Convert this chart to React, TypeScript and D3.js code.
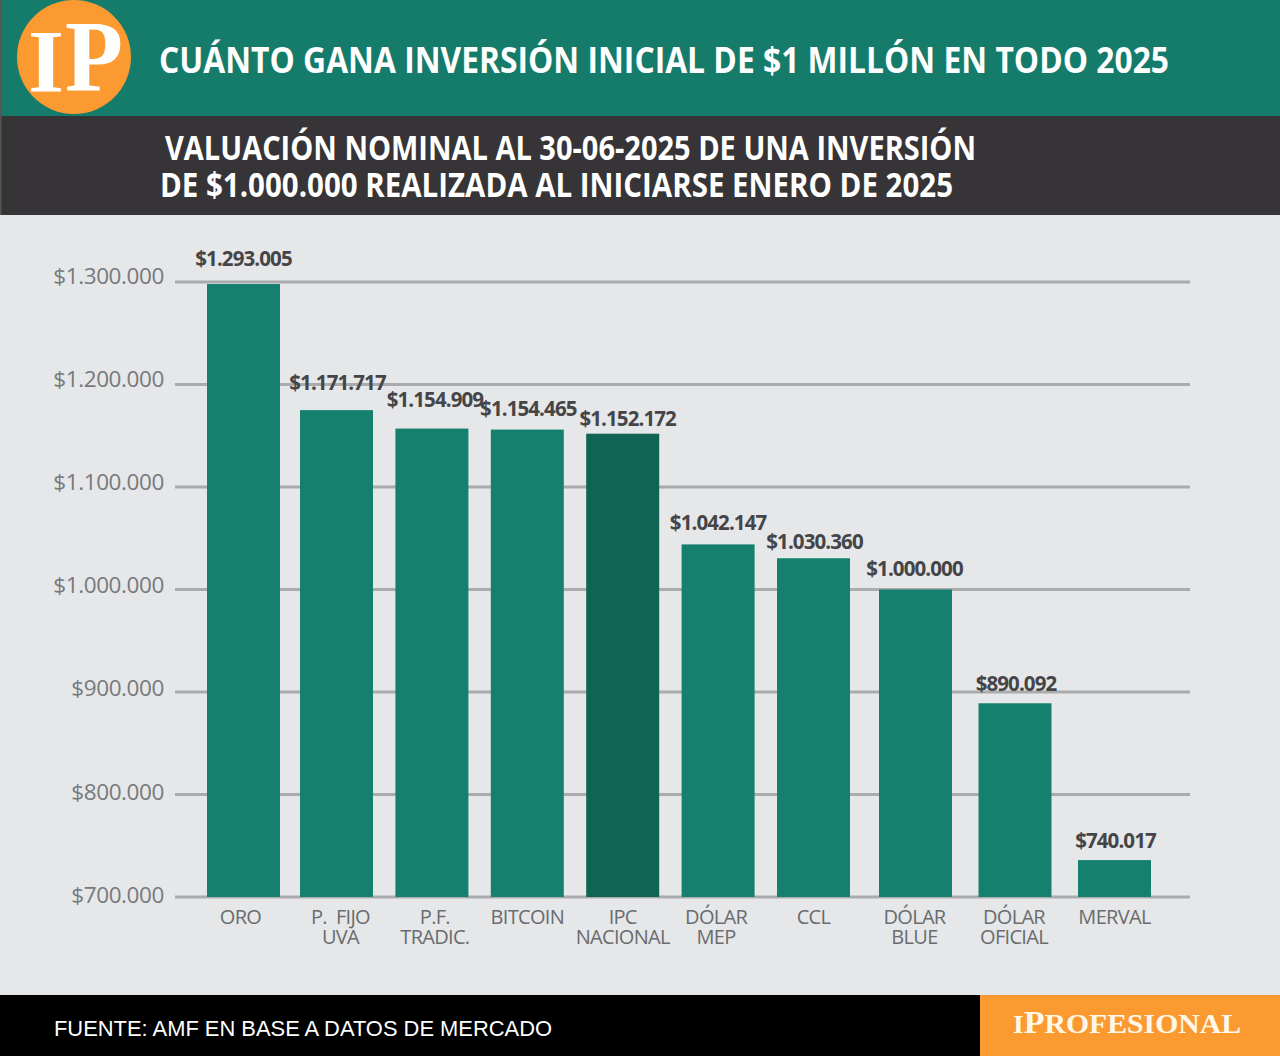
import React, { useEffect, useRef } from 'react';
import * as d3 from 'd3';

const categories = [
  ['ORO'],
  ['P.\u00a0\u00a0FIJO', 'UVA'],
  ['P.F.', 'TRADIC.'],
  ['BITCOIN'],
  ['IPC', 'NACIONAL'],
  ['DÓLAR', 'MEP'],
  ['CCL'],
  ['DÓLAR', 'BLUE'],
  ['DÓLAR', 'OFICIAL'],
  ['MERVAL'],
];
// printed figures
const valueLabels = [
  '$1.293.005', '$1.171.717', '$1.154.909', '$1.154.465', '$1.152.172',
  '$1.042.147', '$1.030.360', '$1.000.000', '$890.092', '$740.017',
];
// bar tops as read against the axis (the original bars do not quite follow the printed figures)
const barValues = [1298000, 1175000, 1157000, 1156000, 1152000, 1044000, 1030500, 1000000, 889000, 736000];
const yTicks = [700000, 800000, 900000, 1000000, 1100000, 1200000, 1300000];
const highlighted = 'IPC';

const TEAL = '#15806d';
const TEAL_DARK = '#0f6454';
const ORANGE = '#fb9a30';
const SANS = '"Open Sans", sans-serif';
const SERIF = '"Liberation Serif", serif';

export default function App() {
  const svgRef = useRef<SVGSVGElement>(null);

  useEffect(() => {
    if (!svgRef.current) return;
    const svg = d3.select(svgRef.current);
    svg.selectAll('*').remove();

    const y = d3.scaleLinear().domain([700000, 1300000]).range([897, 282]);
    // tick labels in the original drift slightly against the grid lines
    const yLabels = d3.scaleLinear().domain([700000, 1300000]).range([895, 276]);
    // columns are not evenly spaced in the original
    const x = d3.scaleLinear().domain([0, 1, 6, 7, 9]).range([207, 300, 777, 879, 1078]);
    const barWidth = 73;

    svg.append('rect').attr('width', 1280).attr('height', 1056).attr('fill', '#e5e7e9');

    // Header
    svg.append('rect').attr('width', 1280).attr('height', 116).attr('fill', '#157b6b');
    svg.append('rect').attr('y', 116).attr('width', 1280).attr('height', 99).attr('fill', '#363436');
    svg.append('rect').attr('width', 1.5).attr('height', 215).attr('fill', '#555');
    svg.append('circle').attr('cx', 74).attr('cy', 57).attr('r', 57).attr('fill', ORANGE);
    svg.append('text').attr('x', 28).attr('y', 91).attr('font-family', SERIF).attr('font-weight', 700)
      .attr('font-size', 88).attr('fill', '#fff').attr('textLength', 36).attr('lengthAdjust', 'spacingAndGlyphs').text('I');
    svg.append('text').attr('x', 65).attr('y', 91).attr('font-family', SERIF).attr('font-weight', 700)
      .attr('font-size', 102).attr('fill', '#fff').attr('textLength', 58).attr('lengthAdjust', 'spacingAndGlyphs').text('P');

    const heading = (txt: string, tx: number, ty: number, size: number, len: number) =>
      svg.append('text').attr('x', tx).attr('y', ty).attr('font-family', SANS).attr('font-weight', 700)
        .attr('font-size', size).attr('fill', '#fff').attr('textLength', len)
        .attr('lengthAdjust', 'spacingAndGlyphs').text(txt);
    heading('CUÁNTO GANA INVERSIÓN INICIAL DE $1 MILLÓN EN TODO 2025', 159, 73, 36.5, 1010);
    heading('VALUACIÓN NOMINAL AL 30-06-2025 DE UNA INVERSIÓN', 165, 160, 34, 811);
    heading('DE $1.000.000 REALIZADA AL INICIARSE ENERO DE 2025', 160, 197, 34, 793);

    // Y axis and grid
    const axis = svg.append('g').attr('transform', 'translate(175,0)')
      .call(
        d3.axisLeft(yLabels)
          .tickValues(yTicks)
          .tickSize(0)
          .tickPadding(11)
          .tickFormat(d => '$' + d3.format(',')(d as number).replace(/,/g, '.'))
      );
    axis.select('.domain').remove();
    axis.selectAll('text')
      .attr('font-family', SANS)
      .attr('font-size', 22.5)
      .attr('letter-spacing', -0.4)
      .attr('fill', '#77797c');

    svg.append('g').selectAll('line').data(yTicks).enter().append('line')
      .attr('x1', 175).attr('x2', 1190)
      .attr('y1', d => y(d)).attr('y2', d => y(d))
      .attr('stroke', '#a9abad').attr('stroke-width', 3);

    // Bars
    svg.append('g').selectAll('rect').data(barValues).enter().append('rect')
      .attr('x', (_, i) => x(i))
      .attr('y', d => y(d))
      .attr('width', barWidth)
      .attr('height', d => y(700000) - y(d))
      .attr('fill', (_, i) => (categories[i][0] === highlighted ? TEAL_DARK : TEAL));

    // Value labels: the original places them by hand, so each has its own nudge
    const labelLift = [18, 20, 22, 14, 8, 14, 9, 14, 12, 12];
    const labelShift = [0, 1, 3, 1, 5, 0, 1, -1, 1, 1];
    svg.append('g').selectAll('text').data(valueLabels).enter().append('text')
      .attr('x', (_, i) => x(i) + barWidth / 2 + labelShift[i])
      .attr('y', (_, i) => y(barValues[i]) - labelLift[i])
      .attr('text-anchor', 'middle')
      .attr('font-family', SANS)
      .attr('font-weight', 700)
      .attr('font-size', 20.5)
      .attr('letter-spacing', -0.9)
      .attr('fill', '#454547')
      .text(d => d);

    // Category labels
    const catShift = [-3, 4, 3, 0, 0, -2, 0, -1, -1, 0];
    const cats = svg.append('g').selectAll('text').data(categories).enter().append('text')
      .attr('text-anchor', 'middle')
      .attr('font-family', SANS)
      .attr('font-size', 20)
      .attr('letter-spacing', -0.7)
      .attr('fill', '#6a6c6f');
    cats.selectAll('tspan').data((d, i) => d.map(t => ({ t, i }))).enter().append('tspan')
      .attr('x', d => x(d.i) + barWidth / 2 + catShift[d.i])
      .attr('y', (_, j) => 924 + j * 20)
      .text(d => d.t);

    // Footer
    svg.append('rect').attr('y', 995).attr('width', 1280).attr('height', 61).attr('fill', '#000');
    svg.append('rect').attr('x', 980).attr('y', 995).attr('width', 300).attr('height', 61).attr('fill', ORANGE);
    svg.append('text').attr('x', 54).attr('y', 1036).attr('font-family', '"Liberation Sans", sans-serif')
      .attr('font-size', 22).attr('fill', '#fff').attr('textLength', 498).attr('lengthAdjust', 'spacingAndGlyphs')
      .text('FUENTE: AMF EN BASE A DATOS DE MERCADO');
    const brand = svg.append('text').attr('x', 1013).attr('y', 1033).attr('font-family', SERIF).attr('font-weight', 700)
      .attr('fill', '#fff8ea').attr('textLength', 228).attr('lengthAdjust', 'spacingAndGlyphs');
    brand.append('tspan').attr('font-size', 25).text('I');
    brand.append('tspan').attr('font-size', 31).text('P');
    brand.append('tspan').attr('font-size', 27).text('ROFESIONAL');
  }, []);

  return (
    <svg
      ref={svgRef}
      width={1280}
      height={1056}
      viewBox="0 0 1280 1056"
      style={{ position: 'absolute', left: 0, top: 0, display: 'block' }}
    />
  );
}
